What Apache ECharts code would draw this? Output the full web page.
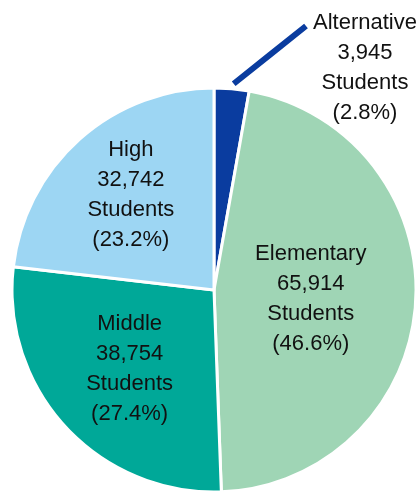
<!DOCTYPE html>
<html>
<head>
<meta charset="utf-8">
<script src="https://cdn.jsdelivr.net/npm/echarts@6/dist/echarts.min.js"></script>
<style>
  html, body { margin: 0; padding: 0; background: #ffffff; }
  #chart { width: 420px; height: 492px; }
</style>
</head>
<body>
<div id="chart"></div>
<script>
// school levels, clockwise from 12 o'clock
var levels = ["Alternative", "Elementary", "Middle", "High"];
var students = [3945, 65914, 38754, 32742];
var colors = ["#0a3c9f", "#9fd5b5", "#00a898", "#9dd6f3"];

function withCommas(n) {
    return String(n).replace(/\B(?=(\d{3})+(?!\d))/g, ",");
}

// small nudges for the inside labels, index matches levels
var nudge = [[0, 0], [-7, 2], [-8, 8], [-14, -17]];

var data = [];
for (var i = 0; i < levels.length; i++) {
    var item = {
        name: levels[i],
        value: students[i],
        itemStyle: { color: colors[i] }
    };
    if (i == 0) {
        item.label = { position: "outside" };
        item.labelLine = { show: true, lineStyle: { color: colors[0], width: 6 } };
    }
    data.push(item);
}

var myChart = echarts.init(document.getElementById("chart"));
var option = {
    animation: false,
    series: [{
        type: "pie",
        center: [214, 290],
        radius: 202,
        startAngle: 90,
        clockwise: true,
        percentPrecision: 1,
        avoidLabelOverlap: false,
        itemStyle: { borderColor: "#ffffff", borderWidth: 3 },
        label: {
            show: true,
            position: "inside",
            fontFamily: "'Liberation Sans', Arial, sans-serif",
            fontSize: 22,
            lineHeight: 30,
            color: "#111111",
            align: "center",
            formatter: function (p) {
                return p.name + "\n" + withCommas(p.value) + "\nStudents\n(" + p.percent.toFixed(1) + "%)";
            }
        },
        labelLine: { show: false },
        labelLayout: function (p) {
            if (p.dataIndex == 0) {
                var lx = 365, ly = 68;
                var s = p.labelLinePoints ? p.labelLinePoints[0] : [232, 89];
                var start = [s[0] + 2, s[1] - 5];
                var end = [lx - 59, ly - 42];
                return {
                    x: lx, y: ly,
                    align: "center", verticalAlign: "middle",
                    labelLinePoints: [start, [(start[0] + end[0]) / 2, (start[1] + end[1]) / 2], end]
                };
            }
            return { dx: nudge[p.dataIndex][0], dy: nudge[p.dataIndex][1] };
        },
        data: data
    }]
};
myChart.setOption(option);
</script>
</body>
</html>
